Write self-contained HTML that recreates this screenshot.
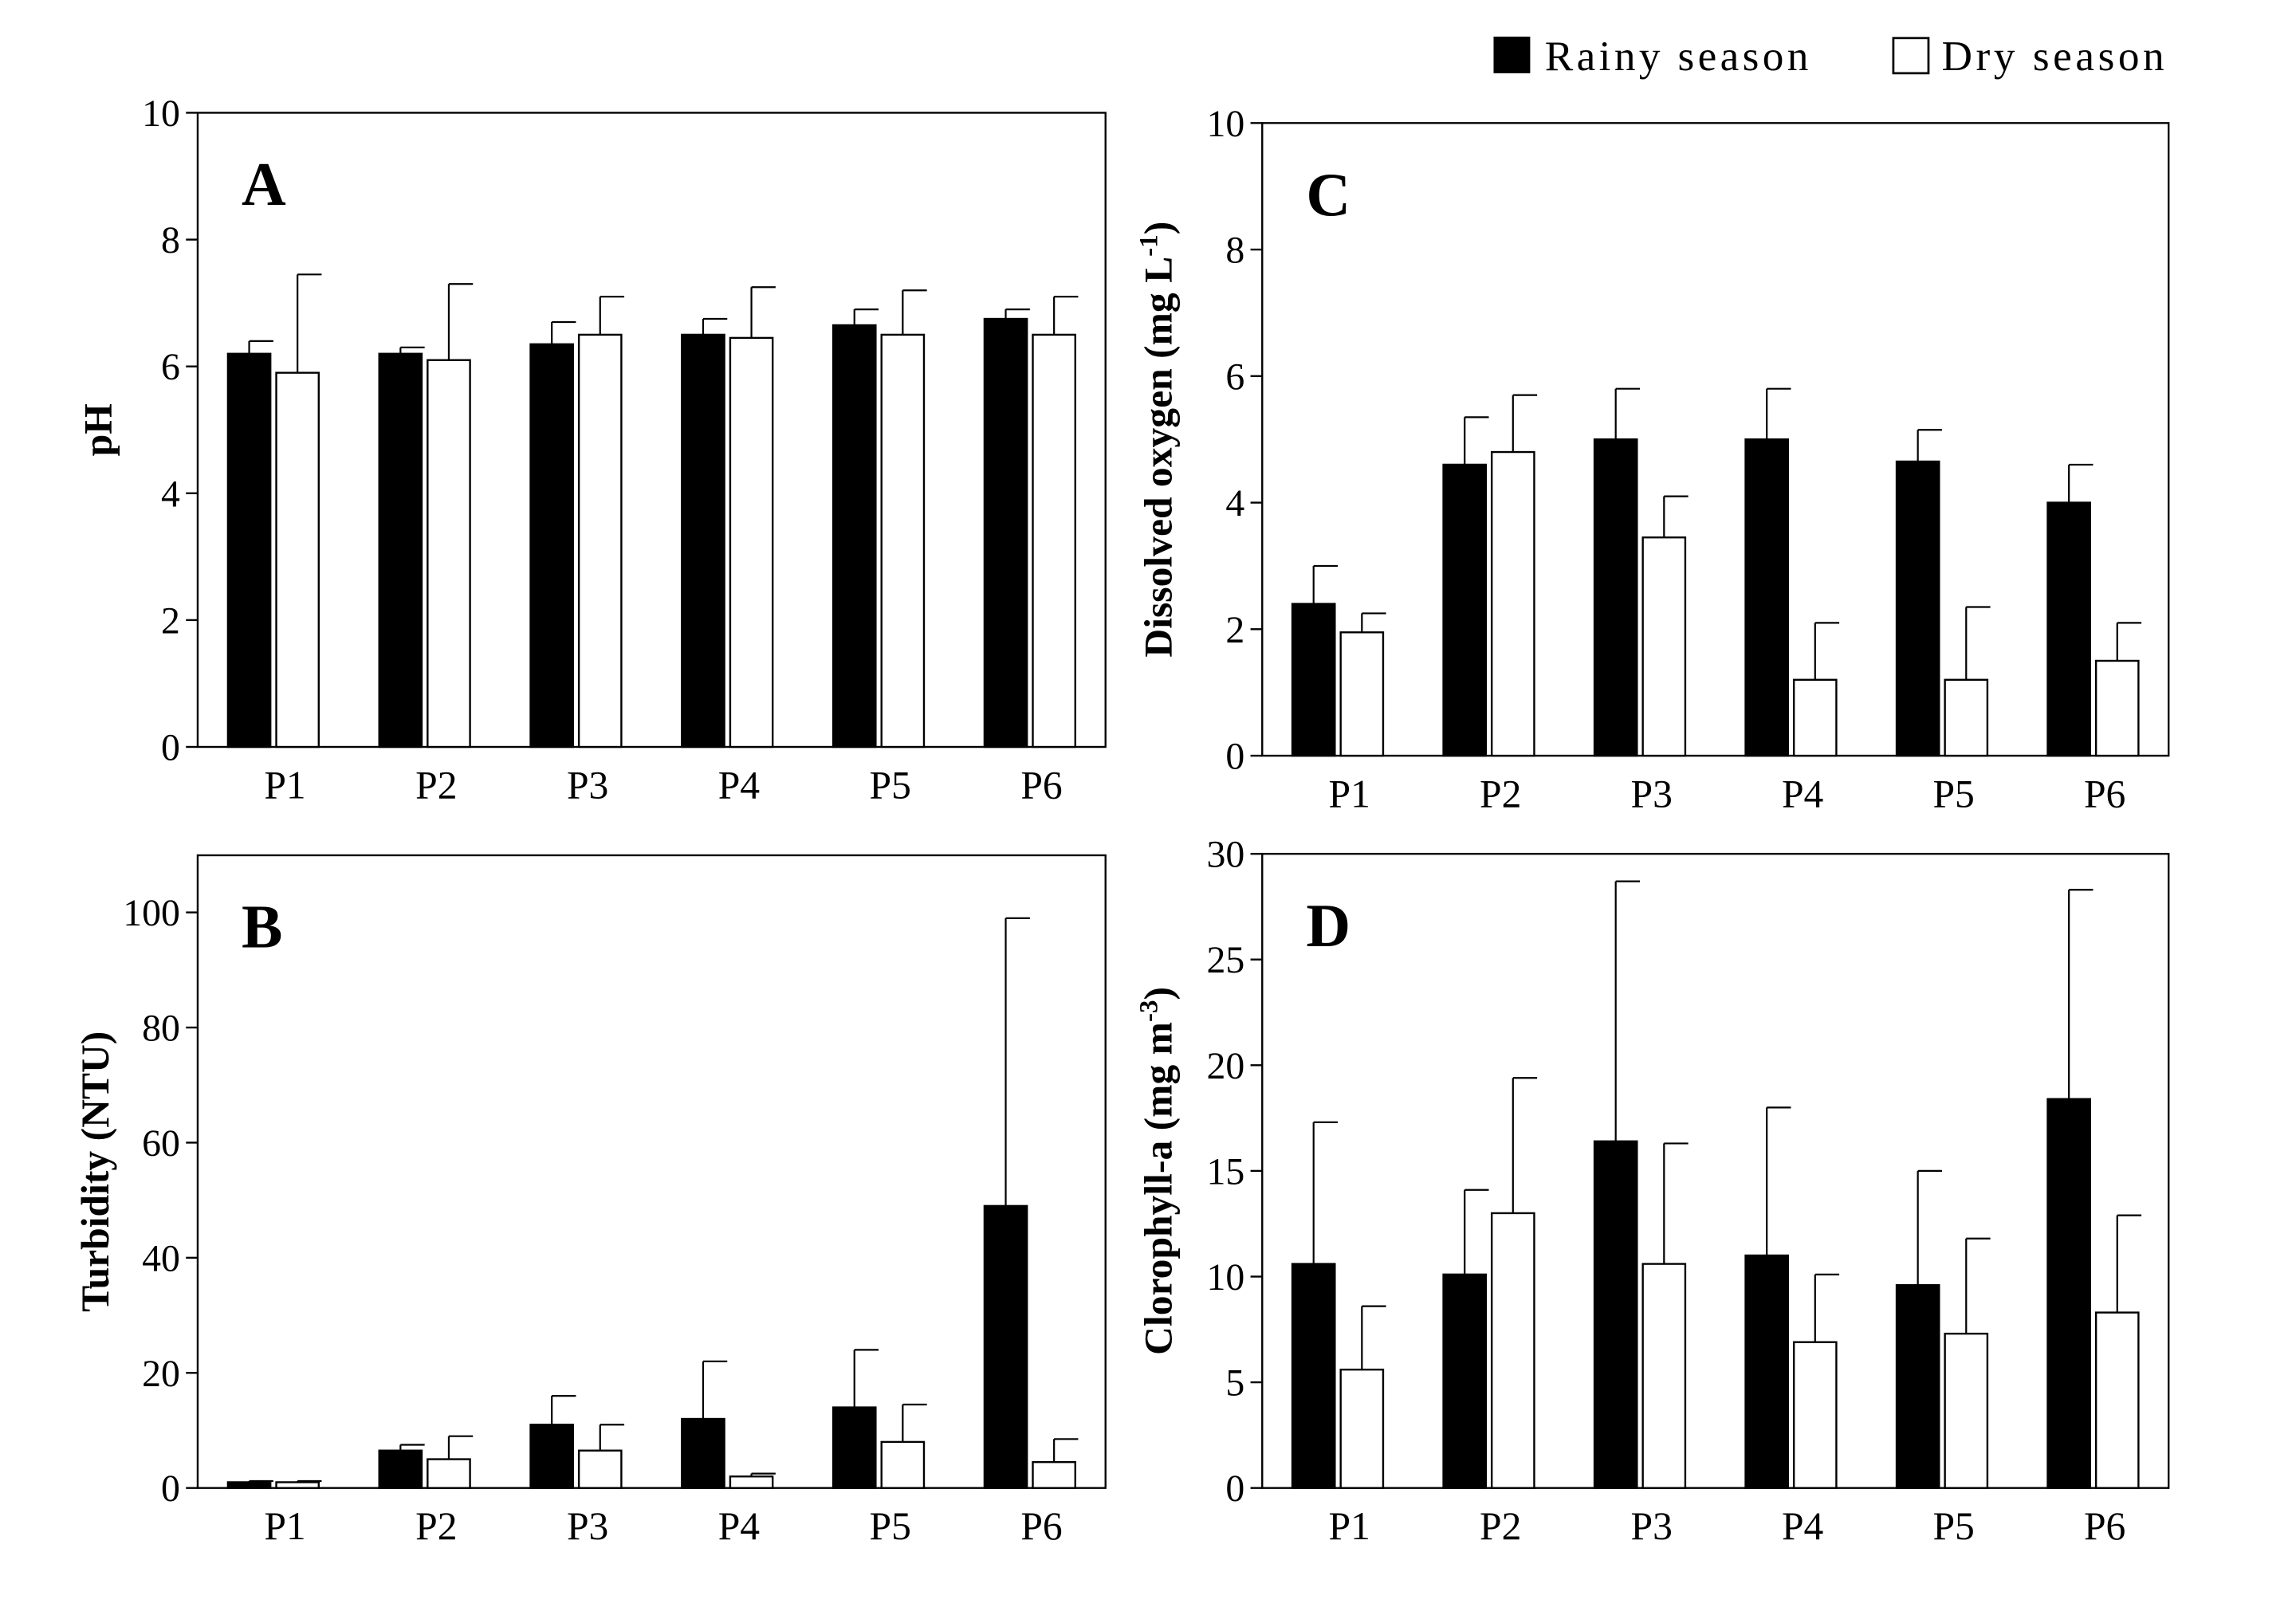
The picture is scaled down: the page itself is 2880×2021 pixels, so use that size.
<!DOCTYPE html>
<html><head><meta charset="utf-8"><style>
html,body{margin:0;padding:0;background:#fff;}
svg{display:block;font-family:"Liberation Serif",serif;}
</style></head><body>
<svg id="fig" width="2880" height="2021" viewBox="0 0 1568 1100" preserveAspectRatio="none" xmlns="http://www.w3.org/2000/svg">
<g>
<rect x="1020" y="25" width="25" height="25" fill="#000"/>
<text x="1055" y="48" font-size="29" textLength="180">Rainy season</text>
<rect x="1293" y="26" width="24" height="24" fill="#fff" stroke="#000" stroke-width="1.5"/>
<text x="1326" y="48" font-size="29" textLength="152">Dry season</text>
</g>
</svg>
<script>
const categories=["P1","P2","P3","P4","P5","P6"];
const phRainy=[6.2,6.2,6.35,6.5,6.65,6.75];
const phRainyErr=[0.2,0.1,0.35,0.25,0.25,0.15];
const phDry=[5.9,6.1,6.5,6.45,6.5,6.5];
const phDryErr=[1.55,1.2,0.6,0.8,0.7,0.6];
const phTicks=[0,2,4,6,8,10];
const turbRainy=[1,6.5,11,12,14,49];
const turbRainyErr=[0.2,1,5,10,10,50];
const turbDry=[1,5,6.5,2,8,4.5];
const turbDryErr=[0.2,4,4.5,0.5,6.5,4];
const turbTicks=[0,20,40,60,80,100];
const doRainy=[2.4,4.6,5.0,5.0,4.65,4.0];
const doRainyErr=[0.6,0.75,0.8,0.8,0.5,0.6];
const doDry=[1.95,4.8,3.45,1.2,1.2,1.5];
const doDryErr=[0.3,0.9,0.65,0.9,1.15,0.6];
const doTicks=[0,2,4,6,8,10];
const chlRainy=[10.6,10.1,16.4,11,9.6,18.4];
const chlRainyErr=[6.7,4,12.3,7,5.4,9.9];
const chlDry=[5.6,13,10.6,6.9,7.3,8.3];
const chlDryErr=[3,6.4,5.7,3.2,4.5,4.6];
const chlTicks=[0,5,10,15,20,25,30];

const NS="http://www.w3.org/2000/svg";
const svg=document.getElementById('fig');
function mk(tag,attrs,parent){const e=document.createElementNS(NS,tag);for(const k in attrs)e.setAttribute(k,attrs[k]);(parent||svg).appendChild(e);return e;}

function panel(o){
  const g=mk('g',{});
  
  
  const y=v=>o.y0-(v-o.ymin)/(o.ymax-o.ymin)*(o.y0-o.yTopVal);
  const bw=(o.x1-o.x0)/categories.length;
  const box=mk('rect',{x:o.x0,y:o.top,width:o.x1-o.x0,height:o.y0-o.top,fill:'none',stroke:'#000','stroke-width':1.3},g);
  
  
  o.ticks.forEach(t=>{
    const l=mk('line',{x1:o.x0-8,x2:o.x0,y1:y(t),y2:y(t),stroke:'#000','stroke-width':1.3},g);
    
    
    const tx=mk('text',{x:o.x0-12,y:y(t)+9,'font-size':26,'text-anchor':'end'},g);
    tx.textContent=t;
    
    
  });
  categories.forEach((c,i)=>{
    const cx=o.x0+bw*(i+0.5);
    const w=29;
    [[o.rainy,o.rainyErr,'#000',cx-w-2,'rainy'],[o.dry,o.dryErr,'#fff',cx+2,'dry']].forEach(([vals,errs,fill,bx,s])=>{
      const v=vals[i],e=errs[i];
      const ex=bx+w/2;
      const el=mk('line',{x1:ex,x2:ex,y1:y(v),y2:y(v+e),stroke:'#000','stroke-width':1.2},g);
      
      
      const cap=mk('line',{x1:ex,x2:ex+w/2+2,y1:y(v+e),y2:y(v+e),stroke:'#000','stroke-width':1.2},g);
      
      
      const r=mk('rect',{x:bx,y:y(v),width:w,height:y(o.ymin)-y(v),fill:fill,stroke:'#000','stroke-width':1.3},g);
      
      
    });
    const lab=mk('text',{x:cx+8,y:o.y0+35,'font-size':27,'text-anchor':'middle'},g);
    lab.textContent=c;
    
    
  });
  const L=mk('text',{x:o.x0+30,y:o.top+63,'font-size':42,'font-weight':'bold'},g);
  L.textContent=o.letter;
  
  
  const cy=(o.top+o.y0)/2;
  const T=mk('text',{x:o.titleX,y:cy,'font-size':27,'font-weight':'bold','text-anchor':'middle',transform:`rotate(-90 ${o.titleX} ${cy})`},g);
  T.innerHTML=o.title;
  
  
}
panel({name:'panel-a-ph',letter:'A',title:'pH',titleX:76,x0:135,x1:755,top:77,y0:510,yTopVal:77,ymin:0,ymax:10,ticks:phTicks,rainy:phRainy,rainyErr:phRainyErr,dry:phDry,dryErr:phDryErr});
panel({name:'panel-b-turbidity',letter:'B',title:'Turbidity (NTU)',titleX:74,x0:135,x1:755,top:584,y0:1016,yTopVal:623,ymin:0,ymax:100,ticks:turbTicks,rainy:turbRainy,rainyErr:turbRainyErr,dry:turbDry,dryErr:turbDryErr});
panel({name:'panel-c-dissolved-oxygen',letter:'C',title:'Dissolved oxygen (mg L<tspan baseline-shift="super" font-size="18">-1</tspan>)',titleX:800,x0:862,x1:1481,top:84,y0:516,yTopVal:84,ymin:0,ymax:10,ticks:doTicks,rainy:doRainy,rainyErr:doRainyErr,dry:doDry,dryErr:doDryErr});
panel({name:'panel-d-chlorophyll',letter:'D',title:'Clorophyll-a (mg m<tspan baseline-shift="super" font-size="18">-3</tspan>)',titleX:800,x0:862,x1:1481,top:583,y0:1016,yTopVal:583,ymin:0,ymax:30,ticks:chlTicks,rainy:chlRainy,rainyErr:chlRainyErr,dry:chlDry,dryErr:chlDryErr});
</script>
</body></html>
